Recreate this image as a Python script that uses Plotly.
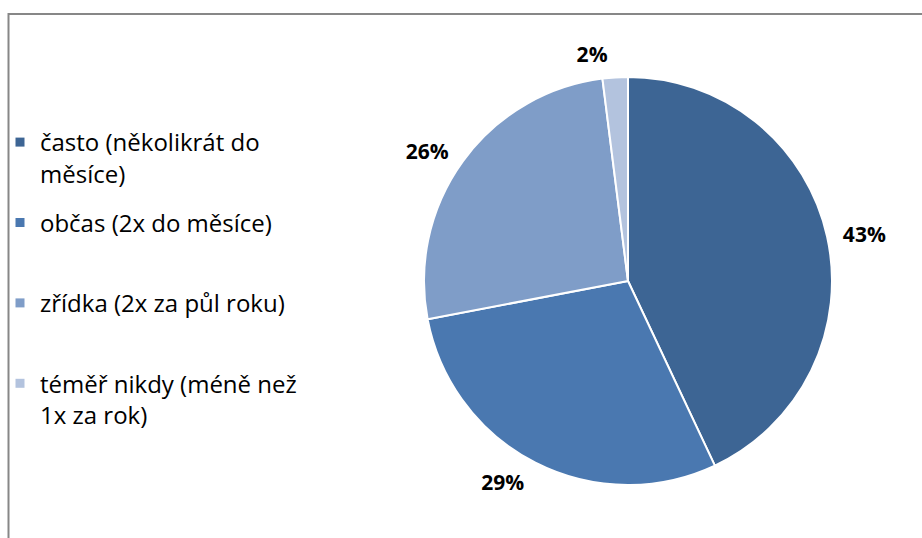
import plotly.graph_objects as go

categories = [
    "často (několikrát do měsíce)",
    "občas (2x do měsíce)",
    "zřídka (2x za půl roku)",
    "téměř nikdy (méně než 1x za rok)",
]
legend_labels = [
    "často (několikrát do<br>měsíce)",
    "občas (2x do měsíce)<br> ",
    "zřídka (2x za půl roku)<br> ",
    "téměř nikdy (méně než<br>1x za rok)",
]
values = [43, 29, 26, 2]
colors = ["#3D6594", "#4A78B0", "#7F9DC8", "#B3C3DE"]

W, H = 922, 538
cx, cy, r = 628, 281, 204
r_lab = r + 9


def dom(rad):
    return dict(x=[(cx - rad) / W, (cx + rad) / W],
                y=[1 - (cy + rad) / H, 1 - (cy - rad) / H])


fig = go.Figure()

# visible pie
fig.add_trace(go.Pie(
    labels=categories, values=values, sort=False, direction="clockwise", rotation=0,
    marker=dict(colors=colors, line=dict(color="white", width=2)),
    textinfo="none", domain=dom(r), showlegend=False,
    hovertemplate="%{label}: %{percent:.0%}<extra></extra>",
))

# label carrier (same data, slightly larger radius, transparent)
fig.add_trace(go.Pie(
    labels=categories, values=values, sort=False, direction="clockwise", rotation=0,
    marker=dict(colors=["rgba(0,0,0,0)"] * len(values), line=dict(width=0)),
    texttemplate="%{percent:.0%}", textposition="outside",
    textfont=dict(family="Open Sans", size=21, color="black", weight="bold"),
    domain=dom(r_lab), showlegend=False, hoverinfo="skip",
))

# legend entries
for i, (lab, col) in enumerate(zip(legend_labels, colors)):
    fig.add_trace(go.Scatter(
        x=[None], y=[None], mode="markers", name=lab, legendgroup=str(i),
        marker=dict(symbol="square", size=9, color=col),
        hoverinfo="skip",
    ))

fig.add_shape(
    type="rect", xref="paper", yref="paper",
    x0=8.5 / W, x1=1.05, y0=-0.05, y1=1 - 14 / H,
    line=dict(color="#878787", width=2), fillcolor="rgba(0,0,0,0)", layer="below",
)

fig.update_layout(
    width=W, height=H,
    margin=dict(l=0, r=0, t=0, b=0),
    paper_bgcolor="white",
    plot_bgcolor="white",
    xaxis=dict(visible=False),
    yaxis=dict(visible=False),
    showlegend=True,
    legend=dict(
        x=0.0, y=1 - 120 / H, xanchor="left", yanchor="top",
        font=dict(family="Open Sans", size=24, color="black"),
        valign="top", traceorder="grouped", tracegroupgap=15,
        bgcolor="rgba(0,0,0,0)",
        itemclick=False, itemdoubleclick=False,
    ),
)

fig.write_html("out.html", config={"displayModeBar": False},
               post_script="document.body.style.margin='0';")
